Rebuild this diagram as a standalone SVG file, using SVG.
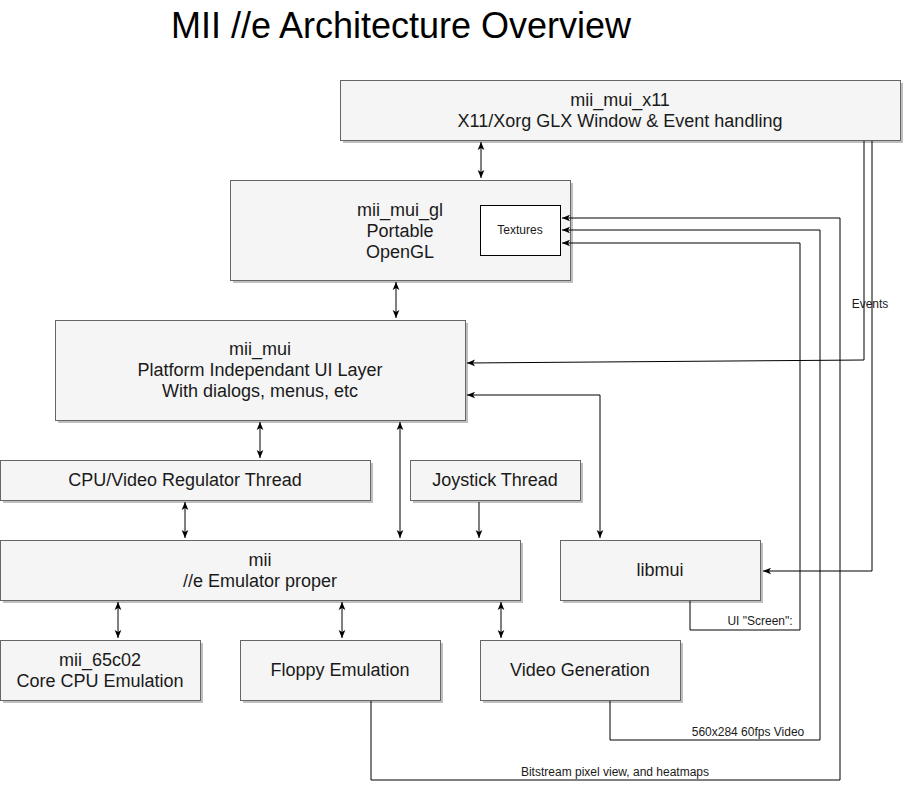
<svg xmlns="http://www.w3.org/2000/svg" width="904" height="790" viewBox="0 0 904 790">
<style>
  .box { fill: #f5f5f5; stroke: #666666; stroke-width: 1; }
  .sh { fill: #000000; opacity: 0.25; }
  .t { font-family: "Liberation Sans", Arial, sans-serif; font-size: 18px; fill: #1a1a1a; text-anchor: middle; }
  .s { font-family: "Liberation Sans", Arial, sans-serif; font-size: 12px; fill: #1a1a1a; text-anchor: middle; }
  .e { fill: none; stroke: #000000; stroke-width: 1; }
  .title { font-family: "Liberation Sans", Arial, sans-serif; font-size: 36px; fill: #000000; text-anchor: middle; }
</style>
<defs>
  <marker id="arr" viewBox="0 0 10 10" refX="10" refY="5" markerWidth="8" markerHeight="8" markerUnits="userSpaceOnUse" orient="auto-start-reverse">
    <path d="M0,0.8 L10,5 L0,9.2 L2.5,5 z" fill="#000000"/>
  </marker>
</defs>
<rect width="904" height="790" fill="#ffffff"/>

<g id="title"><text class="title" x="401" y="38">MII //e Architecture Overview</text></g>

<g id="mii_mui_x11">
  <rect class="sh" x="343" y="83" width="560" height="60"/>
  <rect class="box" x="340.5" y="80.5" width="560" height="60"/>
  <text class="t" x="620" y="106">mii_mui_x11</text>
  <text class="t" x="620" y="127">X11/Xorg GLX Window &amp; Event handling</text>
</g>

<g id="mii_mui_gl">
  <rect class="sh" x="233" y="183" width="340" height="100"/>
  <rect class="box" x="230.5" y="180.5" width="340" height="100"/>
  <text class="t" x="400" y="216">mii_mui_gl</text>
  <text class="t" x="400" y="237">Portable</text>
  <text class="t" x="400" y="258">OpenGL</text>
</g>

<g id="textures">
  <rect x="480.5" y="205.5" width="80" height="50" fill="#ffffff" stroke="#000000"/>
  <text class="s" x="520" y="234">Textures</text>
</g>

<g id="mii_mui">
  <rect class="sh" x="58" y="323" width="410" height="100"/>
  <rect class="box" x="55.5" y="320.5" width="410" height="100"/>
  <text class="t" x="260" y="355">mii_mui</text>
  <text class="t" x="260" y="376">Platform Independant UI Layer</text>
  <text class="t" x="260" y="397">With dialogs, menus, etc</text>
</g>

<g id="cpu_regulator">
  <rect class="sh" x="3" y="463" width="370" height="40"/>
  <rect class="box" x="0.5" y="460.5" width="370" height="40"/>
  <text class="t" x="185" y="486">CPU/Video Regulator Thread</text>
</g>

<g id="joystick">
  <rect class="sh" x="413" y="463" width="170" height="40"/>
  <rect class="box" x="410.5" y="460.5" width="170" height="40"/>
  <text class="t" x="495" y="486">Joystick Thread</text>
</g>

<g id="mii">
  <rect class="sh" x="3" y="543" width="520" height="60"/>
  <rect class="box" x="0.5" y="540.5" width="520" height="60"/>
  <text class="t" x="260" y="566">mii</text>
  <text class="t" x="260" y="587">//e Emulator proper</text>
</g>

<g id="libmui">
  <rect class="sh" x="563" y="543" width="200" height="60"/>
  <rect class="box" x="560.5" y="540.5" width="200" height="60"/>
  <text class="t" x="660" y="576">libmui</text>
</g>

<g id="mii_65c02">
  <rect class="sh" x="3" y="643" width="200" height="60"/>
  <rect class="box" x="0.5" y="640.5" width="200" height="60"/>
  <text class="t" x="100" y="666">mii_65c02</text>
  <text class="t" x="100" y="687">Core CPU Emulation</text>
</g>

<g id="floppy">
  <rect class="sh" x="243" y="643" width="200" height="60"/>
  <rect class="box" x="240.5" y="640.5" width="200" height="60"/>
  <text class="t" x="340" y="676">Floppy Emulation</text>
</g>

<g id="video">
  <rect class="sh" x="483" y="643" width="200" height="60"/>
  <rect class="box" x="480.5" y="640.5" width="200" height="60"/>
  <text class="t" x="580" y="676">Video Generation</text>
</g>

<g id="connectors">
  <path class="e" d="M481,142 V178" marker-start="url(#arr)" marker-end="url(#arr)"/>
  <path class="e" d="M396,282 V318" marker-start="url(#arr)" marker-end="url(#arr)"/>
  <path class="e" d="M260,422 V458" marker-start="url(#arr)" marker-end="url(#arr)"/>
  <path class="e" d="M185,502 V538" marker-start="url(#arr)" marker-end="url(#arr)"/>
  <path class="e" d="M400,422 V538" marker-start="url(#arr)" marker-end="url(#arr)"/>
  <path class="e" d="M479,502 V538" marker-end="url(#arr)"/>
  <path class="e" d="M600,538 V395 H467" marker-start="url(#arr)" marker-end="url(#arr)"/>
  <path class="e" d="M118,602 V638" marker-start="url(#arr)" marker-end="url(#arr)"/>
  <path class="e" d="M342,602 V638" marker-start="url(#arr)" marker-end="url(#arr)"/>
  <path class="e" d="M501,602 V638" marker-start="url(#arr)" marker-end="url(#arr)"/>
  <path class="e" d="M864,141 V360 L467,363" marker-end="url(#arr)"/>
  <path class="e" d="M872,141 V571 H763" marker-end="url(#arr)"/>
  <path class="e" d="M690,601 V630 H800 V243 H562" marker-end="url(#arr)"/>
  <path class="e" d="M610,701 V740 H820 V230 H562" marker-end="url(#arr)"/>
  <path class="e" d="M371,701 V780 H840 V218 H562" marker-end="url(#arr)"/>
  <text class="s" x="870" y="308">Events</text>
  <text class="s" x="760" y="625">UI "Screen":</text>
  <text class="s" x="748" y="736">560x284 60fps Video</text>
  <text class="s" x="615" y="776">Bitstream pixel view, and heatmaps</text>
</g>
</svg>
